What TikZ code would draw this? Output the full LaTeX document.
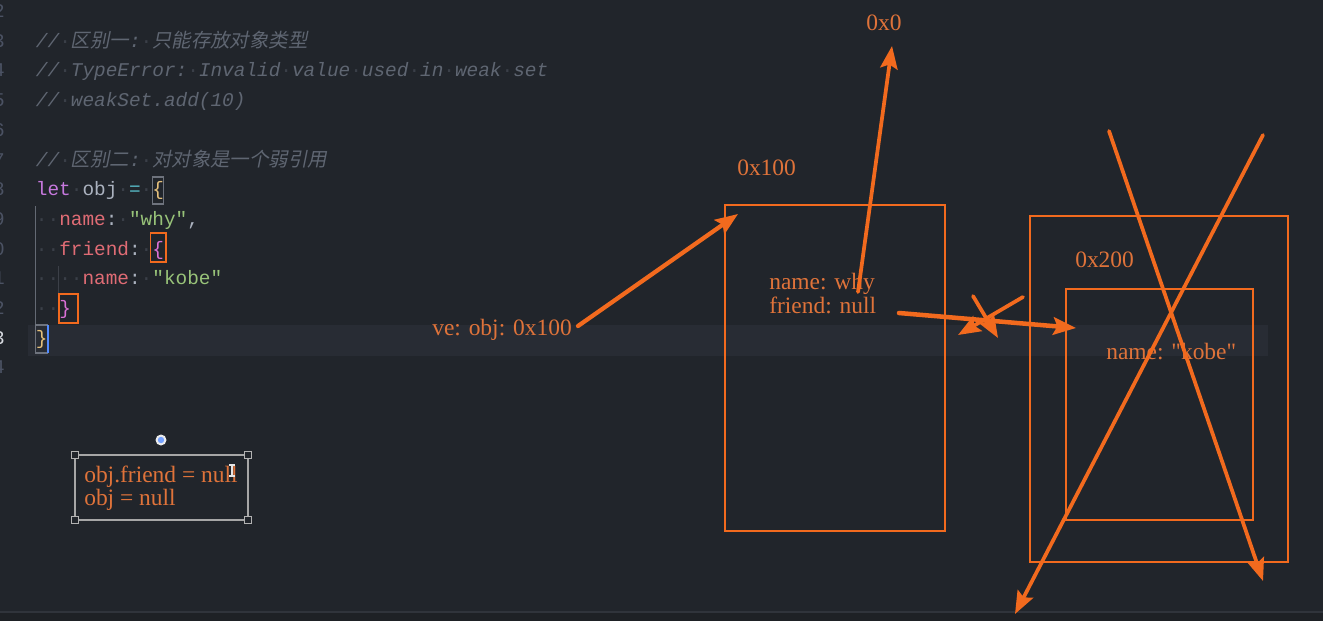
\documentclass[tikz,border=0pt]{standalone}
\usepackage{fontspec}
\setmainfont{Liberation Serif}
\setmonofont{Liberation Mono}
\newfontfamily\notefont{Liberation Serif}
\newfontfamily\cjkit[FakeSlant=0.2]{Noto Sans CJK SC}
\usetikzlibrary{arrows.meta}
\definecolor{bg}{HTML}{21252B}
\definecolor{band}{HTML}{282C34}
\definecolor{cmt}{HTML}{5F6672}
\definecolor{wsc}{HTML}{3A3F48}
\definecolor{lnum}{HTML}{4B5263}
\definecolor{lnumcur}{HTML}{D7DAE0}
\definecolor{kw}{HTML}{C678DD}
\definecolor{idf}{HTML}{ABB2BF}
\definecolor{opc}{HTML}{56B6C2}
\definecolor{prop}{HTML}{E06C75}
\definecolor{str}{HTML}{98C379}
\definecolor{br1}{HTML}{E5C07B}
\definecolor{br2}{HTML}{DA70D6}
\definecolor{ln}{HTML}{F26A1E}
\definecolor{tx}{HTML}{DF733A}
\definecolor{curs}{HTML}{528BFF}
\definecolor{botbar}{HTML}{1E2125}
\definecolor{botline}{HTML}{30343B}
\definecolor{guide1}{HTML}{646A74}
\definecolor{guide2}{HTML}{3C4048}
\definecolor{brbox}{HTML}{6E737D}
\newcommand\ws{{\color{wsc}\upshape ·}}
\newcommand\cc[2]{{\color{#1}#2}}
\tikzset{
  code/.style={anchor=base west, inner sep=0pt, font=\ttfamily\fontsize{14.55pt}{16pt}\selectfont, text=idf},
  cmtline/.style={code, font=\ttfamily\itshape\fontsize{14.55pt}{16pt}\selectfont, text=cmt},
  lnumstyle/.style={anchor=base east, inner sep=0pt, font=\ttfamily\fontsize{14.55pt}{16pt}\selectfont, text=lnum},
  note/.style={anchor=base west, inner sep=0pt, font=\notefont\fontsize{17.6pt}{20pt}\selectfont, text=tx},
  memrect/.style={draw=ln, line width=1.5pt},
  arr/.style={draw=ln, line width=2.8pt, line cap=round, -{Stealth[length=17pt,width=13pt,inset=3pt]}},
  hbox/.style={draw=ln, line width=1.4pt},
  handle/.style={draw=gray!60, fill=bg, line width=0.6pt, minimum size=5pt, inner sep=0pt}
}
\begin{document}
\begin{tikzpicture}[x=0.75pt,y=-0.75pt]
\useasboundingbox (0,0) rectangle (1323,621);
\fill[bg] (0,0) rectangle (1323,621);
% current line highlight
\fill[band] (28,325) rectangle (1268,356);
% bottom bar
\fill[botbar] (0,612) rectangle (1323,621);
\draw[botline, line width=1pt] (0,612) -- (1323,612);

% line numbers (cut off at the left, as in the reference)
\foreach \n/\d in {2/2,3/3,4/4,5/5,6/6,7/7,8/8,9/9,10/0,11/1,12/2,14/4}{
  \node[lnumstyle] (num\n) at (5,{17.5+(\n-2)*29.7}) {\d};
}
\node[lnumstyle, text=lnumcur] (num13) at (5,{17.5+11*29.7}) {3};

% indent guides
\draw[guide1, line width=0.8pt] (35.7,206) -- (35.7,324);
\draw[guide2, line width=0.8pt] (58.5,266) -- (58.5,294);

% bracket highlight boxes
\draw[brbox, line width=0.8pt] (152.2,177) rectangle (163.8,204);
\draw[brbox, line width=0.8pt] (35.7,325) rectangle (47.3,353);
\fill[curs] (46.5,325) rectangle (48.5,353);

% code
\node[cmtline] (c3) at (35.7,47.2) {//\ws{\cjkit 区别一}:\ws{\cjkit 只能存放对象类型}};
\node[cmtline] (c4) at (35.7,76.9) {//\ws TypeError:\ws Invalid\ws value\ws used\ws in\ws weak\ws set};
\node[cmtline] (c5) at (35.7,106.6) {//\ws weakSet.add(10)};
\node[cmtline] (c7) at (35.7,166.0) {//\ws{\cjkit 区别二}:\ws{\cjkit 对对象是一个弱引用}};
\node[code] (c8) at (35.7,195.7) {\cc{kw}{let}\ws\cc{idf}{obj}\ws\cc{opc}{=}\ws\cc{br1}{\{}};
\node[code] (c9) at (35.7,225.4) {\ws\ws\cc{prop}{name}:\ws\cc{str}{"why"},};
\node[code] (c10) at (35.7,255.1) {\ws\ws\cc{prop}{friend}:\ws\cc{br2}{\{}};
\node[code] (c11) at (35.7,284.8) {\ws\ws\ws\ws\cc{prop}{name}:\ws\cc{str}{"kobe"}};
\node[code] (c12) at (35.7,314.5) {\ws\ws\cc{br2}{\}}};
\node[code] (c13) at (35.7,344.2) {\cc{br1}{\}}};

% orange boxes on the braces
\draw[hbox] (150.5,233) rectangle (166,262);
\draw[hbox] (59,294) rectangle (78,323);

% memory boxes
\draw[memrect] (725,205) rectangle (945,531);
\draw[memrect] (1030,216) rectangle (1288,562);
\draw[memrect] (1066,289) rectangle (1253,520);

% labels
\node[note, anchor=base] (a0) at (884,31) {0x0};
\node[note] (a100) at (737,175) {0x100};
\node[note] (a200) at (1075,267) {0x200};
\node[note] (why) at (769,289) {name: why};
\node[note] (fnull) at (769,313) {friend: null};
\node[note] (kobe) at (1106,359) {name: "kobe"};
\node[note] (ve) at (432,335) {ve: obj: 0x100};

% arrow coordinates
\coordinate (veend) at (578,326);
\coordinate (t100) at (738,214);
\coordinate (whyst) at (858,292);
\coordinate (t0) at (892,46);
\coordinate (frst) at (899,313);
\coordinate (tkobe) at (1076,328);
\coordinate (xa1) at (1023,297);
\coordinate (xa2) at (958,335);
\coordinate (xb1) at (973,296);
\coordinate (xb2) at (998,338);
\coordinate (X1s) at (1109,131);
\coordinate (X1e) at (1263,581);
\coordinate (X2s) at (1263,135);
\coordinate (X2e) at (1015,614);

\draw[arr, line width=3.2pt] (veend) -- (t100);
\draw[arr] (whyst) -- (t0);
\draw[arr, line width=3.4pt] (frst) -- (tkobe);
\draw[arr] (xa1) -- (xa2);
\draw[arr] (xb1) -- (xb2);
\draw[arr] (X1s) -- (X1e);
\draw[arr] (X2s) -- (X2e);

% selected text box (bottom left)
\draw[gray!70, line width=0.8pt] (75,455) rectangle (248,520);
\node[note] (n1) at (84,482) {obj.friend = null};
\node[note] (n2) at (84,505) {obj = null};
\node[handle] (h1) at (75,455) {};
\node[handle] (h2) at (248,455) {};
\node[handle] (h3) at (75,520) {};
\node[handle] (h4) at (248,520) {};
\fill[white!85!gray] (161,440) circle (5.5);
\fill[curs!80!white] (161,440) circle (3.2);
% text cursor icon
\draw[white!80!gray, line width=1pt] (229,465) -- (235,465) (232,465) -- (232,476) (229,476) -- (235,476);
\end{tikzpicture}
\end{document}
